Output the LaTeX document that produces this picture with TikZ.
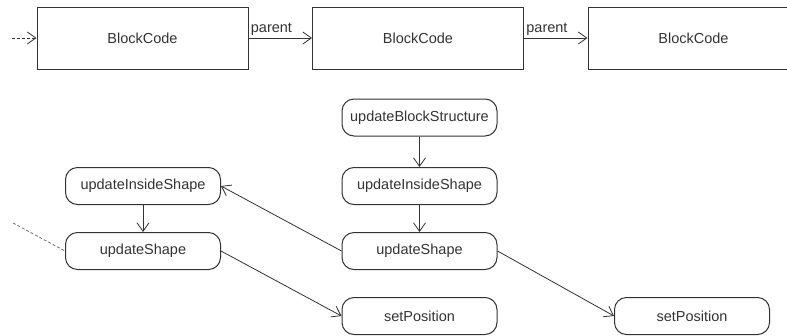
\documentclass[tikz,border=0pt]{standalone}
\usepackage{fontspec}
\setmainfont{Liberation Sans}
\usepackage{xcolor}
\usepackage{tikz}
\usetikzlibrary{shapes.geometric, arrows.meta, positioning, calc}
\definecolor{ink}{HTML}{333333}
\tikzstyle{block} = [rectangle, minimum width=211pt, minimum height=62pt, text centered, draw=ink, line width=1pt, text=ink]
\tikzstyle{func} = [rectangle, rounded corners=12pt, minimum width=155pt, minimum height=37pt, text centered, draw=ink, line width=1pt, text=ink]
\tikzstyle{arrow} = [line width=0.8pt, draw=ink, ->, >={Straight Barb[length=8.5pt,width=12pt]}]
\tikzstyle{dashline} = [dash pattern=on 3pt off 2pt]

\begin{document}
\begin{tikzpicture}[x=1pt, y=-1pt, node distance=65pt, font=\fontsize{14.5}{17}\selectfont]

\useasboundingbox (0,0) rectangle (787,335);
\clip (0,0) rectangle (787,335);

% chain of blocks
\node (blk1) [block] at (142.5,38) {BlockCode};
\node (blk2) [block, right of=blk1, xshift=210.5pt] {BlockCode};
\node (blk3) [block, right of=blk2, xshift=210.5pt] {BlockCode};
\coordinate (in1) at (12,38);

% calls
\node (ubs) [func] at (419.5,117.5) {updateBlockStructure};
\node (uis) [func, below of=ubs, yshift=-3.5pt] {updateInsideShape};
\node (ushape) [func, below of=uis] {updateShape};
\node (setpos) [func, below of=ushape] {setPosition};
\node (uis2) [func, left of=uis, xshift=-211.5pt] {updateInsideShape};
\node (ushape2) [func, below of=uis2] {updateShape};
\node (setpos2) [func, right of=setpos, xshift=207.5pt] {setPosition};
\coordinate (in2) at (13,223);

% Arrows
\draw [arrow, dashline] (in1) -- (blk1);
\draw [arrow] (blk1) -- node[anchor=south west, pos=0, inner sep=2pt, text=ink] {parent} (blk2);
\draw [arrow] (blk2) -- node[anchor=south west, pos=0, inner sep=2pt, text=ink] {parent} (blk3);
\draw [arrow] (ubs) -- (uis);
\draw [arrow] (uis) -- (ushape);
\draw [arrow] (ushape.west) -- (uis2.east);
\draw [arrow] (uis2) -- (ushape2);
\draw [arrow] (ushape2.east) -- (setpos.west);
\draw [arrow] (ushape.east) -- (setpos2.west);
\draw [dashline, draw=ink!70, line width=0.8pt] (in2) -- (ushape2.west);

\end{tikzpicture}
\end{document}
